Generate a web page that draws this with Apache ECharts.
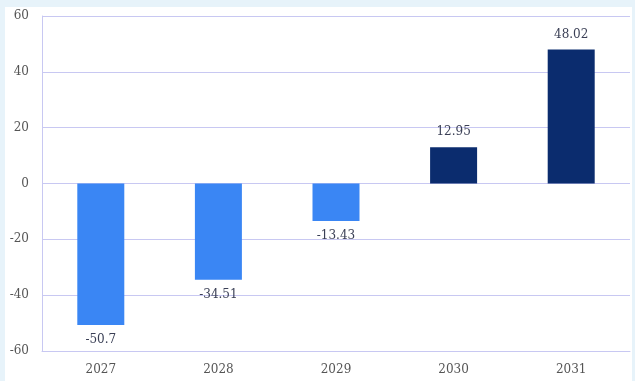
<!DOCTYPE html>
<html>
<head>
<meta charset="utf-8">
<script src="https://cdn.jsdelivr.net/npm/echarts@6/dist/echarts.min.js"></script>
<style>
  html, body { margin: 0; padding: 0; background: #e7f3fa; }
  #panel { position: absolute; left: 5px; top: 7px; width: 627px; height: 374px; background: #ffffff; }
  #chart { position: absolute; left: 0; top: 0; width: 635px; height: 381px; }
</style>
</head>
<body>
<div id="panel"></div>
<div id="chart"></div>
<script>
// Annual change by year
const years = ['2027', '2028', '2029', '2030', '2031'];
const values = [-50.7, -34.51, -13.43, 12.95, 48.02];
const yTicks = { min: -60, max: 60, step: 20 };

const negColor = '#3a86f4';
const posColor = '#0b2c6e';
const gridColor = '#c8c8f2';
const fontFam = '"DejaVu Serif", "Liberation Serif", serif';

const chart = echarts.init(document.getElementById('chart'), null, { renderer: 'canvas' });
chart.setOption({
  backgroundColor: 'transparent',
  animation: false,
  grid: { left: 42, right: 5, top: 16, bottom: 30 },
  xAxis: {
    type: 'category',
    data: years,
    axisLine: { onZero: false, lineStyle: { color: gridColor } },
    axisTick: { show: false },
    axisLabel: { color: '#555555', fontFamily: fontFam, fontSize: 12, margin: 13 }
  },
  yAxis: {
    type: 'value',
    min: yTicks.min,
    max: yTicks.max,
    interval: yTicks.step,
    axisLine: { show: true, lineStyle: { color: gridColor } },
    axisTick: { show: false },
    splitLine: { lineStyle: { color: gridColor, width: 1 } },
    axisLabel: { color: '#555555', fontFamily: fontFam, fontSize: 12, margin: 13 }
  },
  series: [{
    type: 'bar',
    barWidth: 47,
    data: values.map(v => ({
      value: v,
      itemStyle: { color: v < 0 ? negColor : posColor },
      label: { position: v < 0 ? 'bottom' : 'top' }
    })),
    label: {
      show: true,
      color: '#3a3f55',
      fontFamily: fontFam,
      fontSize: 12,
      distance: 9,
      formatter: p => String(p.value)
    }
  }]
});
</script>
</body>
</html>
